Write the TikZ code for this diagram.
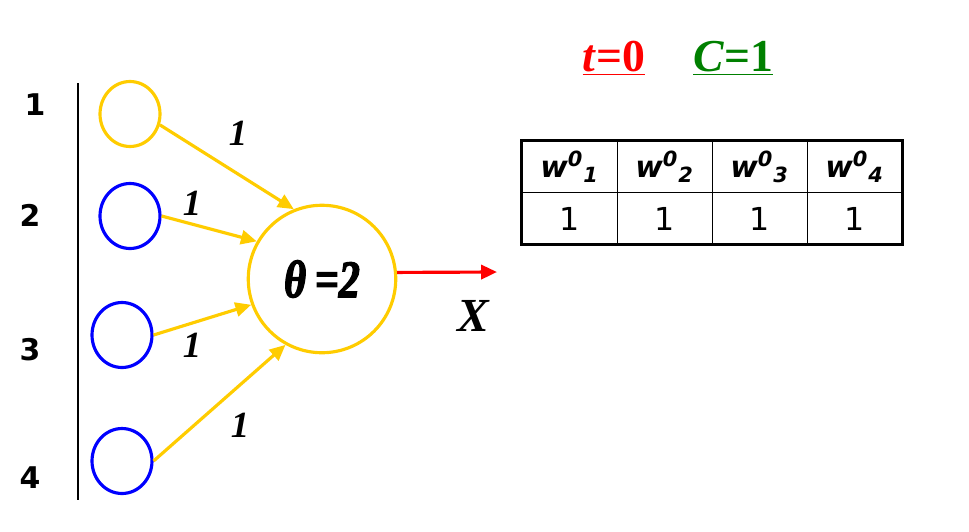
\documentclass[tikz,border=0pt]{standalone}
\usepackage{fontspec}
\setmainfont{Liberation Serif}
\setsansfont{DejaVu Sans}
\newfontfamily\condfont[FakeStretch=0.8, FakeBold=2.5]{Liberation Serif}
\usetikzlibrary{arrows.meta, shapes.geometric}

\definecolor{gold}{RGB}{255,204,0}
\definecolor{inblue}{RGB}{0,0,255}
\definecolor{outred}{RGB}{255,0,0}
\definecolor{cgreen}{RGB}{0,128,0}

\begin{document}
\begin{tikzpicture}[x=0.02cm, y=-0.02cm,
  input/.style={ellipse, draw, line width=1.8pt, minimum width=1.2cm, minimum height=1.3cm, inner sep=0pt},
  neuron/.style={circle, draw=gold, line width=1.8pt, minimum size=2.95cm, inner sep=0pt},
  wire/.style={draw=gold, line width=1.8pt, -{Triangle[length=9pt, width=8pt]}},
  idx/.style={font=\sffamily\bfseries\fontsize{17}{17}\selectfont},
  weight/.style={font=\bfseries\itshape\fontsize{21}{21}\selectfont},
  cell/.style={minimum width=1.9cm, minimum height=1.02cm, inner sep=0pt}
]
\useasboundingbox (0,0) rectangle (969,531);

% Input layer
\draw[line width=1.5pt] (78,83) -- (78,500);
\node[idx] (n1) at (35,105) {1};
\node[idx] (n2) at (30,215) {2};
\node[idx] (n3) at (30,350) {3};
\node[idx] (n4) at (30,478) {4};

\node[input, draw=gold] (in1) at (130,114) {};
\node[input, draw=inblue] (in2) at (130,216) {};
\node[input, draw=inblue] (in3) at (122,335) {};
\node[input, draw=inblue] (in4) at (122,461) {};

% Neuron
\node[neuron, font=\condfont\bfseries\itshape\fontsize{30}{30}\selectfont] (neuron) at (322,279) {θ\,=2};

% Weights
\draw[wire] (in1.-20) -- (neuron.112);
\draw[wire] (in2.east) -- (neuron.150);
\draw[wire] (in3.east) -- (neuron.200);
\draw[wire] (in4.east) -- (neuron.241);

\node[weight] (w1) at (238,133) {1};
\node[weight] (w2) at (192,203) {1};
\node[weight] (w3) at (192,345) {1};
\node[weight] (w4) at (240,425) {1};

% Output
\coordinate (out) at (497,272);
\draw[draw=outred, line width=1.8pt, -{Triangle[length=9pt, width=8pt]}] (neuron.5) -- (out);
\node[font=\bfseries\itshape\fontsize{27}{27}\selectfont] (x) at (473,316) {X};

% Parameters
\node[text=outred, font=\bfseries\fontsize{26}{26}\selectfont] (t) at (614,58) {\underline{\textit{t}=0}};
\node[text=cgreen, font=\bfseries\fontsize{26}{26}\selectfont] (c) at (733,58) {\underline{\textit{C}=1}};

% Weight table
\foreach \i/\xc in {1/569.5, 2/664.5, 3/759.5, 4/854.5} {
  \node[cell, font=\sffamily\bfseries\itshape\fontsize{17}{17}\selectfont] (h\i) at (\xc,166.5) {w\textsuperscript{0}\textsubscript{\i}};
  \node[cell, font=\sffamily\fontsize{18}{18}\selectfont] (v\i) at (\xc,218.5) {1};
}
\draw[line width=0.8pt] (h1.south west) -- (h4.south east);
\foreach \i in {1,2,3} {
  \draw[line width=0.8pt] (h\i.north east) -- (v\i.south east);
}
\draw[line width=1.8pt] (h1.north west) rectangle (v4.south east);

\end{tikzpicture}
\end{document}
